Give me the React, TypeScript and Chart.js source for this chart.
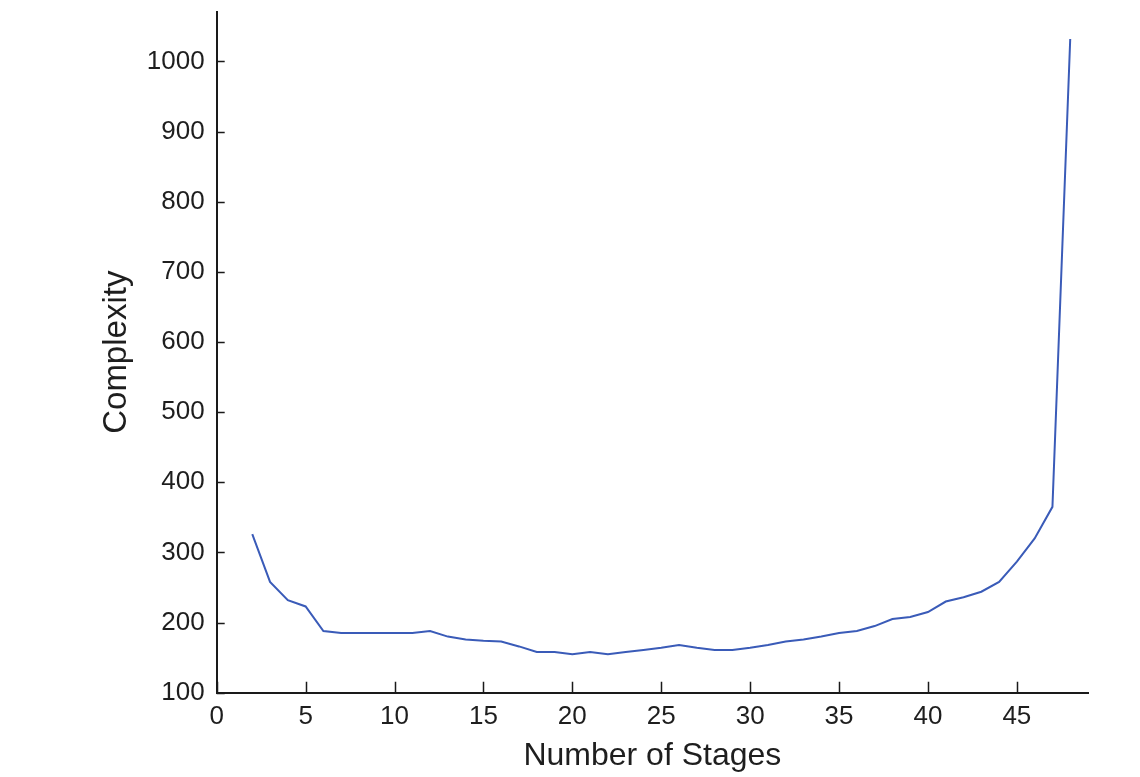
import React, { useEffect, useRef } from "react";
import { Chart, registerables } from "chart.js";

Chart.register(...registerables);

const stages = [2, 3, 4, 5, 6, 7, 8, 9, 10, 11, 12, 13, 14, 15, 16, 17, 18, 19, 20, 21, 22, 23, 24, 25, 26, 27, 28, 29, 30, 31, 32, 33, 34, 35, 36, 37, 38, 39, 40, 41, 42, 43, 44, 45, 46, 47, 48];
const complexity = [326, 258, 232, 223, 188, 185, 185, 185, 185, 185, 188, 180, 176, 174, 173, 166, 158, 158, 155, 158, 155, 158, 161, 164, 168, 164, 161, 161, 164, 168, 173, 176, 180, 185, 188, 195, 205, 208, 215, 230, 236, 244, 258, 287, 320, 365, 1032];

const xMin = 0;
const xMax = 49;
const xStep = 5;
const yMin = 100;
const yMax = 1071;
const yStep = 100;

const xTitle = "Number of Stages";
const yTitle = "Complexity";

const FONT = "'Liberation Sans', Arial, Helvetica, sans-serif";
const TEXT = "#1e1e1e";
const AXIS = "#1a1a1a";

const inwardTicks = {
  id: "inwardTicks",
  afterDatasetsDraw(chart: any) {
    const { ctx, chartArea, scales } = chart;
    ctx.save();
    ctx.strokeStyle = AXIS;
    ctx.lineWidth = 1.5;
    ctx.beginPath();
    scales.x.ticks.forEach((t: any) => {
      const px = Math.round(scales.x.getPixelForValue(t.value)) + 0.5;
      ctx.moveTo(px, chartArea.bottom);
      ctx.lineTo(px, chartArea.bottom - 11);
    });
    scales.y.ticks.forEach((t: any) => {
      const py = Math.round(scales.y.getPixelForValue(t.value)) + 0.5;
      ctx.moveTo(chartArea.left, py);
      ctx.lineTo(chartArea.left + 8, py);
    });
    ctx.stroke();
    ctx.restore();
  },
};

export default function App() {
  const ref = useRef<HTMLCanvasElement>(null);

  useEffect(() => {
    if (!ref.current) return;
    const points = stages.map((s, i) => ({ x: s, y: complexity[i] }));
    const chart = new Chart(ref.current, {
      type: "line",
      data: {
        datasets: [
          {
            data: points,
            borderColor: "#3a5bb8",
            borderWidth: 2,
            pointRadius: 0,
            tension: 0,
            fill: false,
          },
        ],
      },
      options: {
        responsive: false,
        animation: false,
        layout: { padding: { top: 11.7, right: 52, bottom: 0, left: 0 } },
        plugins: {
          legend: { display: false },
          tooltip: { enabled: false },
        },
        scales: {
          x: {
            type: "linear",
            min: xMin,
            max: xMax,
            ticks: {
              stepSize: xStep,
              padding: 9,
              color: TEXT,
              font: { family: FONT, size: 26 },
              maxRotation: 0,
              callback: (v: any) => String(v),
            },
            afterBuildTicks: (s: any) => {
              s.ticks = s.ticks.filter((t: any) => t.value % xStep === 0);
            },
            afterFit: (s: any) => {
              s.height = 84.3;
              s.paddingLeft = 0;
              s.paddingRight = 0;
            },
            grid: { display: false, drawTicks: false },
            border: { display: true, color: AXIS, width: 2 },
            title: {
              display: true,
              text: xTitle,
              color: TEXT,
              font: { family: FONT, size: 32 },
              padding: { top: 0, bottom: 2 },
            },
          },
          y: {
            type: "linear",
            min: yMin,
            max: yMax,
            ticks: {
              stepSize: yStep,
              padding: 12,
              color: TEXT,
              font: { family: FONT, size: 26 },
              callback: (v: any) => String(v),
            },
            afterBuildTicks: (s: any) => {
              s.ticks = s.ticks.filter((t: any) => t.value % yStep === 0);
            },
            afterFit: (s: any) => {
              s.width = 216.7;
              s.paddingTop = 0;
              s.paddingBottom = 0;
            },
            grid: { display: false, drawTicks: false },
            border: { display: true, color: AXIS, width: 2 },
            title: {
              display: true,
              text: yTitle,
              color: TEXT,
              font: { family: FONT, size: 33 },
              padding: { top: 97, bottom: 0 },
            },
          },
        },
      },
      plugins: [inwardTicks],
    });
    return () => chart.destroy();
  }, []);

  return (
    <div style={{ position: "absolute", left: 0, top: 0, width: 1140, height: 777, background: "#fff" }}>
      <canvas ref={ref} width={1140} height={777} />
    </div>
  );
}
